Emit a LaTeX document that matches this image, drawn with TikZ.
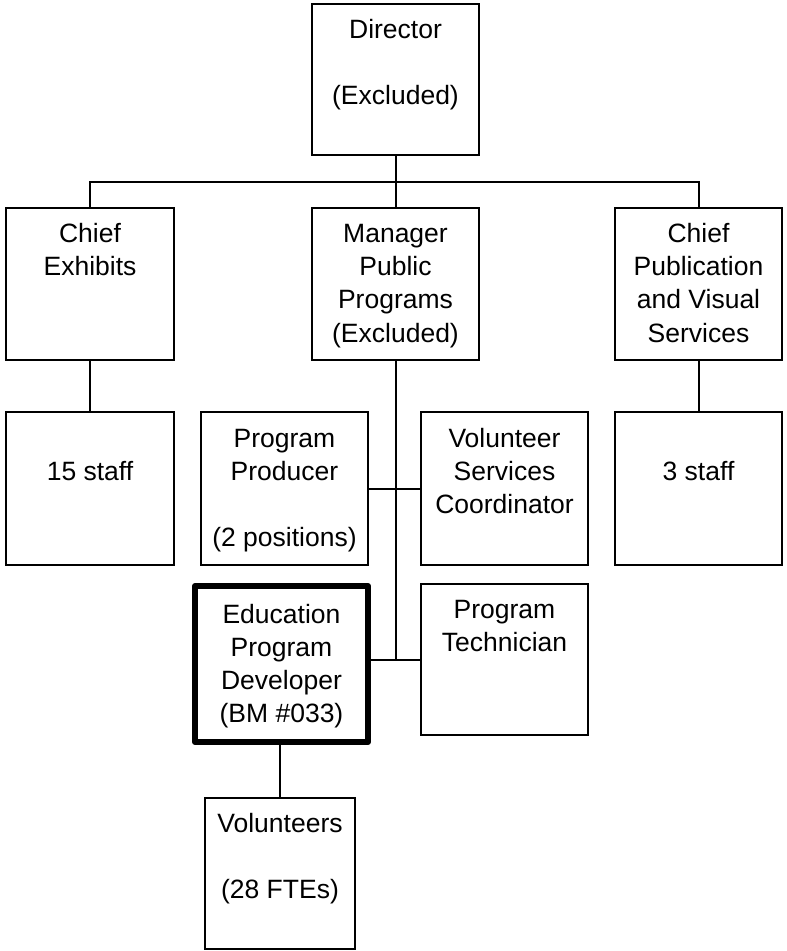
\documentclass[tikz,border=0pt]{standalone}
\usepackage{fontspec}
\setmainfont{Liberation Sans}

% Text block of a position box: fixed size, lines set from the top
\newcommand\posttext[4]{%
  \parbox[c][#2bp][t]{#1bp}{\centering\fontsize{26.5bp}{33.2bp}\selectfont
    \rule{0pt}{#3bp}#4}}

\begin{document}
\begin{tikzpicture}[x=1bp,y=-1bp,
  post/.style={draw=black,line width=2bp,inner sep=0pt,outer sep=0pt,
    rectangle,fill=white},
  keypost/.style={post,line width=6bp,line join=round},
  link/.style={draw=black,line width=2bp}]

  \useasboundingbox[fill=white] (0,0) rectangle (787,951);

  % Top level
  \node[post] (dir) at (395.5,79.25) {\posttext{167}{151.5}{35}{Director\\[0pt]\mbox{}\\(Excluded)}};

  % Second level
  \node[post] (exh) at (90,284) {\posttext{168}{152}{34.5}{Chief\\Exhibits}};
  \node[post] (mgr) at (395.5,284) {\posttext{167}{152}{34.5}{Manager\\Public\\Programs\\(Excluded)}};
  \node[post] (pub) at (698.5,284) {\posttext{167}{152}{34.5}{Chief\\Publication\\and Visual\\Services}};

  % Third level
  \node[post] (exhstaff) at (90,488.5) {\posttext{168}{153}{35}{\mbox{}\\15 staff}};
  \node[post] (prod) at (284.5,488.5) {\posttext{167}{153}{35}{Program\\Producer\\\mbox{}\\(2 positions)}};
  \node[post] (vsc) at (504.5,488.5) {\posttext{167}{153}{35}{Volunteer\\Services\\Coordinator}};
  \node[post] (pubstaff) at (698.5,488.5) {\posttext{167}{153}{35}{\mbox{}\\3 staff}};

  % Fourth level
  \node[keypost] (edu) at (281.5,664) {\posttext{173}{156}{37.3}{Education\\Program\\Developer\\(BM \#033)}};
  \node[post] (tech) at (504.5,659.5) {\posttext{167}{151}{34.5}{Program\\Technician}};

  % Fifth level
  \node[post] (vol) at (280,873.5) {\posttext{150}{151}{34}{Volunteers\\\mbox{}\\(28 FTEs)}};

  % Reporting lines
  \coordinate (bus) at (395.5,181.5);
  \draw[link] (dir.south) -- (mgr.north);
  \draw[link] (exh.north) |- (bus) -| (pub.north);
  \draw[link] (exh.south) -- (exhstaff.north);
  \draw[link] (pub.south) -- (pubstaff.north);
  \coordinate (trunkend) at (mgr.south |- tech.west);
  \draw[link] (mgr.south) -- (trunkend);
  \draw[link] (prod.east) -- (vsc.west);
  \draw[link] (edu.east |- tech.west) -- (tech.west);
  \draw[link] (edu.south -| vol.north) -- (vol.north);
\end{tikzpicture}
\end{document}
